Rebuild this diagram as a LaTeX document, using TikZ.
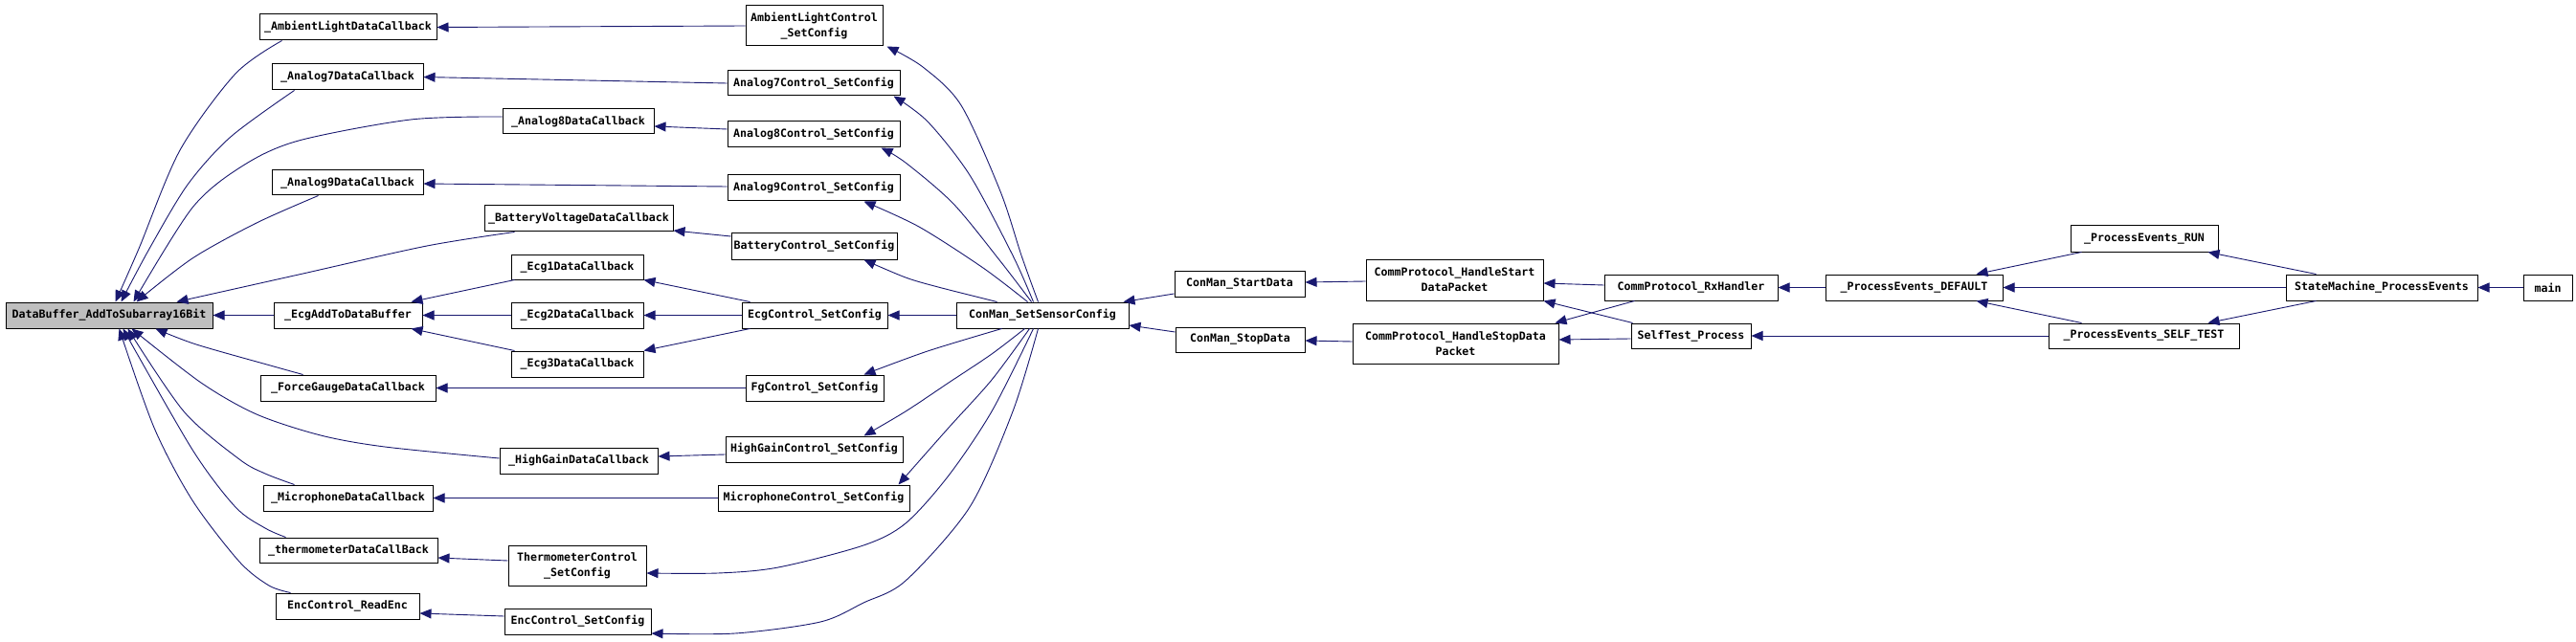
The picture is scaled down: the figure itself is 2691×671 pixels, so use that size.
\documentclass[tikz,border=0pt]{standalone}
\usepackage{fontspec}
\newfontfamily\dfont{DejaVu Sans Mono Bold}
\usetikzlibrary{arrows.meta}
\definecolor{edgeblue}{HTML}{191970}
\definecolor{boxgray}{HTML}{BFBFBF}
\begin{document}
\begin{tikzpicture}[x=1pt,y=-1pt,
 fn/.style={draw=black, line width=1pt, fill=white, inner sep=0pt,
   font=\dfont\fontsize{11.6}{16}\selectfont, align=center, minimum height=27pt},
 edge/.style={draw=edgeblue, line width=0.9pt, -{Triangle[length=12pt,width=10pt]}},
]
\useasboundingbox[fill=white] (0,0) rectangle (2691,671);
% nodes
\node[fn, minimum width=216pt, fill=boxgray] (db) at (114,329.5) {DataBuffer\_AddToSubarray16Bit};
\node[fn, minimum width=185pt] (aldc) at (363.5,28.5) {\_AmbientLightDataCallback};
\node[fn, minimum width=158pt] (a7dc) at (363,80.5) {\_Analog7DataCallback};
\node[fn, minimum width=158pt, minimum height=26pt] (a8dc) at (604,127) {\_Analog8DataCallback};
\node[fn, minimum width=158pt, minimum height=26pt] (a9dc) at (363,191) {\_Analog9DataCallback};
\node[fn, minimum width=197pt] (bvdc) at (604.5,228.5) {\_BatteryVoltageDataCallback};
\node[fn, minimum width=138pt, minimum height=26pt] (e1dc) at (603,279) {\_Ecg1DataCallback};
\node[fn, minimum width=155pt] (ead) at (363.5,329.5) {\_EcgAddToDataBuffer};
\node[fn, minimum width=138pt] (e2dc) at (603,329.5) {\_Ecg2DataCallback};
\node[fn, minimum width=138pt] (e3dc) at (603,380.5) {\_Ecg3DataCallback};
\node[fn, minimum width=183pt] (fgdc) at (363.5,405.5) {\_ForceGaugeDataCallback};
\node[fn, minimum width=165pt] (hgdc) at (604.5,481.5) {\_HighGainDataCallback};
\node[fn, minimum width=177pt] (mdc) at (363.5,520.5) {\_MicrophoneDataCallback};
\node[fn, minimum width=186pt, minimum height=26pt] (tdc) at (364,575) {\_thermometerDataCallBack};
\node[fn, minimum width=144pt, minimum height=42pt] (tcs) at (603,591) {ThermometerControl\\\_SetConfig};
\node[fn, minimum width=150pt] (ere) at (363,633.5) {EncControl\_ReadEnc};
\node[fn, minimum width=153pt] (ecs) at (603.5,649.5) {EncControl\_SetConfig};
\node[fn, minimum width=143pt, minimum height=42pt] (alcs) at (850.5,27) {AmbientLightControl\\\_SetConfig};
\node[fn, minimum width=180pt, minimum height=26pt] (a7cs) at (850,87) {Analog7Control\_SetConfig};
\node[fn, minimum width=180pt] (a8cs) at (850,140.5) {Analog8Control\_SetConfig};
\node[fn, minimum width=180pt] (a9cs) at (850,196.5) {Analog9Control\_SetConfig};
\node[fn, minimum width=173pt] (bcs) at (850.5,257.5) {BatteryControl\_SetConfig};
\node[fn, minimum width=152pt] (ecgcs) at (851,329.5) {EcgControl\_SetConfig};
\node[fn, minimum width=144pt] (fgcs) at (851,405.5) {FgControl\_SetConfig};
\node[fn, minimum width=185pt] (hgcs) at (850.5,469.5) {HighGainControl\_SetConfig};
\node[fn, minimum width=200pt] (mcs) at (850,520.5) {MicrophoneControl\_SetConfig};
\node[fn, minimum width=180pt] (cssc) at (1089,329.5) {ConMan\_SetSensorConfig};
\node[fn, minimum width=136pt] (csd) at (1295,296.5) {ConMan\_StartData};
\node[fn, minimum width=135pt, minimum height=26pt] (cstd) at (1295.5,355) {ConMan\_StopData};
\node[fn, minimum width=185pt, minimum height=43pt] (hsd) at (1519.5,292.5) {CommProtocol\_HandleStart\\DataPacket};
\node[fn, minimum width=215pt, minimum height=42pt] (hstd) at (1520.5,359) {CommProtocol\_HandleStopData\\Packet};
\node[fn, minimum width=181pt] (rx) at (1766.5,300.5) {CommProtocol\_RxHandler};
\node[fn, minimum width=125pt, minimum height=26pt] (stp) at (1766.5,351) {SelfTest\_Process};
\node[fn, minimum width=185pt] (ped) at (1999.5,300.5) {\_ProcessEvents\_DEFAULT};
\node[fn, minimum width=154pt] (per) at (2240,249.5) {\_ProcessEvents\_RUN};
\node[fn, minimum width=199pt, minimum height=26pt] (pest) at (2239.5,351) {\_ProcessEvents\_SELF\_TEST};
\node[fn, minimum width=200pt] (smpe) at (2488,300.5) {StateMachine\_ProcessEvents};
\node[fn, minimum width=51pt] (main) at (2661.5,300.5) {main};
% straight edges, left part
\draw[edge] (alcs.west) -- (aldc.east);
\draw[edge] (a7cs.west) -- (a7dc.east);
\draw[edge] ([yshift=5.5pt]a8cs.west) -- ([yshift=-5pt]a8dc.east);
\draw[edge] ([yshift=1.5pt]a9cs.west) -- ([yshift=-1pt]a9dc.east);
\draw[edge] ([yshift=10.5pt]bcs.west) -- ([yshift=-12.5pt]bvdc.east);
\draw[edge] ([xshift=9pt]ecgcs.north west) -- (e1dc.south east);
\draw[edge] (ecgcs.west) -- (e2dc.east);
\draw[edge] ([xshift=9pt]ecgcs.south west) -- (e3dc.north east);
\draw[edge] ([xshift=4pt]e1dc.south west) -- ([xshift=-12pt]ead.north east);
\draw[edge] (e2dc.west) -- (ead.east);
\draw[edge] ([xshift=4pt]e3dc.north west) -- ([xshift=-12pt]ead.south east);
\draw[edge] (ead.west) -- (db.east);
\draw[edge] (fgcs.west) -- (fgdc.east);
\draw[edge] ([yshift=-5.5pt]hgcs.west) -- ([yshift=4.5pt]hgdc.east);
\draw[edge] (mcs.west) -- (mdc.east);
\draw[edge] ([yshift=5pt]tcs.west) -- ([yshift=-8pt]tdc.east);
\draw[edge] ([yshift=5.5pt]ecs.west) -- ([yshift=-7.5pt]ere.east);
% curved edges into DataBuffer
\draw[edge] plot[smooth] coordinates {([xshift=24pt]aldc.south west) (246,77) (188,157) (145,260) ([xshift=115pt]db.north west)};
\draw[edge] plot[smooth] coordinates {([xshift=24pt]a7dc.south west) (241,143) (196,193) (156,260) ([xshift=121pt]db.north west)};
\draw[edge] plot[smooth] coordinates {([yshift=5pt]a8dc.west) (429,125) (312,147) (254,173) (201,217) ([xshift=134pt]db.north west)};
\draw[edge] plot[smooth] coordinates {([xshift=49pt]a9dc.south west) (268,233) (201,270) ([xshift=137pt]db.north west)};
\draw[edge] plot[smooth] coordinates {([xshift=32pt]bvdc.south west) (446,257) (312,287) ([xshift=179pt]db.north west)};
\draw[edge] plot[smooth] coordinates {([xshift=45pt]fgdc.north west) (286,383) (205,360) ([xshift=157pt]db.south west)};
\draw[edge] plot[smooth] coordinates {([yshift=2.5pt]hgdc.west) (402,467) (335,455) (268,433) (210,400) ([xshift=132pt]db.south west)};
\draw[edge] plot[smooth] coordinates {([xshift=33pt]mdc.north west) (277,495) (250,480) (192,430) ([xshift=128pt]db.south west)};
\draw[edge] plot[smooth] coordinates {([xshift=28pt]tdc.north west) (277,552) (246,530) (201,470) ([xshift=123pt]db.south west)};
\draw[edge] plot[smooth] coordinates {([xshift=16pt]ere.north west) (281,612) (250,587) (201,523) (161,447) ([xshift=119pt]db.south west)};
% ConMan_SetSensorConfig fan-out
\draw[edge] plot[smooth] coordinates {([xshift=86pt]cssc.north west) (1067,267) (1045,200) (1004,110) (964,70) ([xshift=4pt]alcs.south east)};
\draw[edge] plot[smooth] coordinates {([xshift=81pt]cssc.north west) (1058,267) (1013,183) (969,127) ([xshift=-7pt]a7cs.south east)};
\draw[edge] plot[smooth] coordinates {([xshift=79pt]cssc.north west) (1045,273) (996,213) (946,170) ([xshift=-20pt]a8cs.south east)};
\draw[edge] plot[smooth] coordinates {([xshift=75pt]cssc.north west) (1027,280) (960,237) ([xshift=-38pt]a9cs.south east)};
\draw[edge] plot[smooth] coordinates {([xshift=43pt]cssc.north west) (980,300) (946,290) ([xshift=-35pt]bcs.south east)};
\draw[edge] (cssc.west) -- (ecgcs.east);
\draw[edge] plot[smooth] coordinates {([xshift=48pt]cssc.south west) (969,367) ([xshift=-21pt]fgcs.north east)};
\draw[edge] plot[smooth] coordinates {([xshift=72pt]cssc.south west) (1036,370) (991,400) (946,430) ([xshift=-41pt]hgcs.north east)};
\draw[edge] plot[smooth] coordinates {([xshift=77pt]cssc.south west) (1036,397) (991,447) ([xshift=-12pt]mcs.north east)};
\draw[edge] plot[smooth] coordinates {([xshift=81pt]cssc.south west) (1036,430) (991,497) (946,547) (902,570) (813,593) (750,599) ([yshift=-8pt]tcs.east)};
\draw[edge] plot[smooth] coordinates {([xshift=86pt]cssc.south west) (1058,430) (1013,530) (946,607) (902,630) (857,650) (768,662) ([yshift=-12.5pt]ecs.east)};
% right part
\draw[edge] ([yshift=-10.5pt]csd.west) -- ([xshift=-6pt]cssc.north east);
\draw[edge] ([yshift=8pt]cstd.west) -- ([yshift=-10.5pt]cssc.east);
\draw[edge] ([yshift=-1.5pt]hsd.west) -- ([yshift=1.5pt]csd.east);
\draw[edge] ([yshift=2pt]hstd.west) -- ([yshift=-1pt]cstd.east);
\draw[edge] ([yshift=2.5pt]rx.west) -- ([yshift=-3.5pt]hsd.east);
\draw[edge] ([xshift=32pt]rx.south west) -- ([xshift=-4pt]hstd.north east);
\draw[edge] ([xshift=2pt]stp.north west) -- (hsd.south east);
\draw[edge] ([yshift=-3pt]stp.west) -- ([yshift=4pt]hstd.east);
\draw[edge] (ped.west) -- (rx.east);
\draw[edge] (pest.west) -- (stp.east);
\draw[edge] ([xshift=12pt]per.south west) -- ([xshift=-28pt]ped.north east);
\draw[edge] ([xshift=35pt]pest.north west) -- ([xshift=-28pt]ped.south east);
\draw[edge] ([xshift=32pt]smpe.north west) -- ([xshift=-11pt]per.south east);
\draw[edge] (smpe.west) -- (ped.east);
\draw[edge] ([xshift=32pt]smpe.south west) -- ([xshift=-33pt]pest.north east);
\draw[edge] (main.west) -- (smpe.east);
\end{tikzpicture}
\end{document}
